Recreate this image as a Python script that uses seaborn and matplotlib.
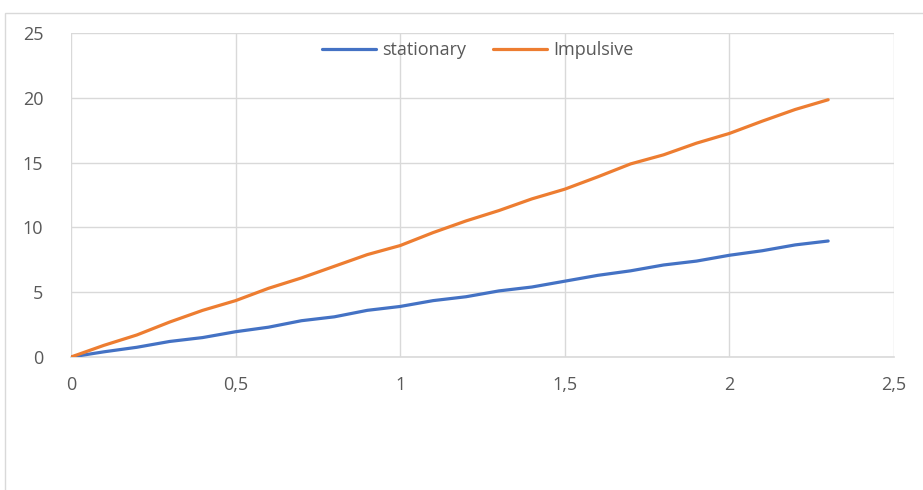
import matplotlib
matplotlib.use("Agg")
import matplotlib.pyplot as plt
import matplotlib.patches as mpatches
from matplotlib.ticker import FuncFormatter
import seaborn as sns
import pandas as pd

# Time steps and cumulative values for the two loading cases
x_values = [0.0, 0.1, 0.2, 0.3, 0.4, 0.5, 0.6, 0.7, 0.8, 0.9, 1.0, 1.1,
            1.2, 1.3, 1.4, 1.5, 1.6, 1.7, 1.8, 1.9, 2.0, 2.1, 2.2, 2.3]
stationary = [0.0, 0.4, 0.75, 1.2, 1.5, 1.95, 2.3, 2.8, 3.1, 3.6, 3.9, 4.35,
              4.65, 5.1, 5.4, 5.85, 6.3, 6.65, 7.1, 7.4, 7.85, 8.2, 8.65, 8.95]
impulsive = [0.0, 0.9, 1.7, 2.7, 3.6, 4.35, 5.3, 6.1, 7.0, 7.9, 8.6, 9.6,
             10.5, 11.3, 12.2, 12.95, 13.9, 14.9, 15.6, 16.5, 17.25, 18.2, 19.1, 19.85]
series_names = ["stationary", "Impulsive"]
x_ticks = [0, 0.5, 1, 1.5, 2, 2.5]
y_ticks = [0, 5, 10, 15, 20, 25]

df = pd.DataFrame({
    "x": x_values * 2,
    "value": stationary + impulsive,
    "series": [series_names[0]] * len(x_values) + [series_names[1]] * len(x_values),
})

sns.set_theme(style="white")
plt.rcParams["font.family"] = ["Open Sans", "DejaVu Sans"]

W, H = 923, 490
fig = plt.figure(figsize=(W / 100, H / 100), dpi=100)
fig.patch.set_facecolor("white")

# chart area frame
frame = mpatches.Rectangle((5 / W, -0.1), 1.2, 1.1 - 13 / H, transform=fig.transFigure,
                           fill=False, edgecolor="#d9d9d9", linewidth=1.0)
fig.patches.append(frame)

ax = fig.add_axes([71 / W, 1 - 357 / H, (894 - 71) / W, (357 - 33) / H])

sns.lineplot(data=df, x="x", y="value", hue="series", ax=ax,
             palette={"stationary": "#4472C4", "Impulsive": "#ED7D31"},
             linewidth=2.3, legend=True, zorder=3)

ax.set_xlim(0, 2.5)
ax.set_ylim(0, 25)
ax.set_xticks(x_ticks)
ax.set_yticks(y_ticks)
ax.xaxis.set_major_formatter(FuncFormatter(lambda v, p: f"{v:g}".replace(".", ",")))
ax.yaxis.set_major_formatter(FuncFormatter(lambda v, p: f"{v:g}"))

ax.grid(True, color="#d9d9d9", linewidth=1.0, zorder=0)
ax.set_axisbelow(True)
for side in ["left", "right", "top"]:
    ax.spines[side].set_visible(False)
ax.spines["bottom"].set_color("#d9d9d9")
ax.spines["bottom"].set_linewidth(1.2)

ax.tick_params(axis="both", length=0, labelsize=13, colors="#595959")
ax.tick_params(axis="x", pad=14)
ax.tick_params(axis="y", pad=20)
ax.set_xlabel("")
ax.set_ylabel("")

leg = ax.legend(loc="upper center", bbox_to_anchor=(0.4945, 1.0), ncol=2, frameon=False,
                fontsize=13, handlelength=3.0, columnspacing=1.5, handletextpad=0.33,
                borderaxespad=0.05)
for t in leg.get_texts():
    t.set_color("#595959")

fig.savefig("out.png", dpi=100, facecolor="white")
